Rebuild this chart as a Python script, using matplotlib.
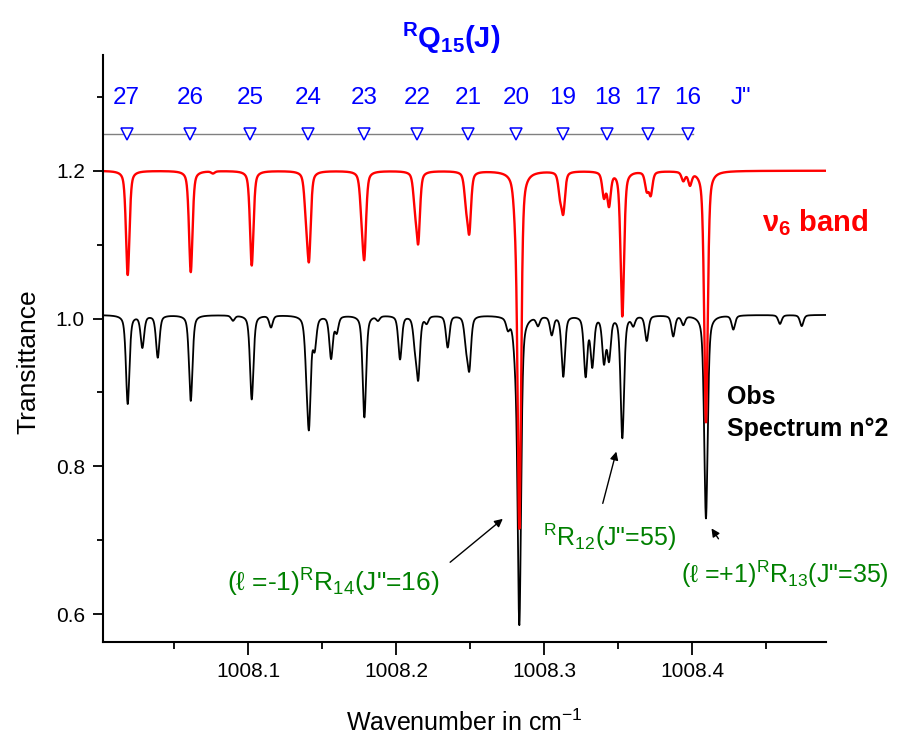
import matplotlib.pyplot as plt
import numpy as np

plt.rcParams['font.family'] = ['Liberation Sans', 'DejaVu Sans']
plt.rcParams['mathtext.fontset'] = 'custom'
plt.rcParams['mathtext.rm'] = 'Liberation Sans'
plt.rcParams['mathtext.it'] = 'Liberation Sans:italic'
plt.rcParams['mathtext.bf'] = 'Liberation Sans:bold'

# axis range (cm-1, transmittance)
x_min, x_max = 1008.002, 1008.4905
y_min, y_max = 0.563, 1.3565

# RQ15(J) assignments: J'' and line position
q_j = [27, 26, 25, 24, 23, 22, 21, 20, 19, 18, 17, 16]
q_pos = [1008.0180, 1008.0608, 1008.1013, 1008.1405, 1008.1784, 1008.2142,
         1008.2486, 1008.2811, 1008.3128, 1008.3426, 1008.3703, 1008.3973]

# calculated nu6 band: line centres and depths below the 1.2 offset
calc_base = 1.2
calc_pos = [1008.0187, 1008.0613, 1008.0763, 1008.1025, 1008.1392, 1008.1412,
            1008.1768, 1008.1786, 1008.2128, 1008.2150, 1008.2473, 1008.2495,
            1008.2805, 1008.2833, 1008.3108, 1008.3130, 1008.3405, 1008.3439,
            1008.3529, 1008.3694, 1008.3721, 1008.3941, 1008.3986, 1008.4094]
calc_depth = [0.141, 0.137, 0.003, 0.128, 0.045, 0.110,
              0.042, 0.105, 0.038, 0.090, 0.036, 0.077,
              0.030, 0.480, 0.028, 0.052, 0.033, 0.044,
              0.196, 0.024, 0.030, 0.012, 0.017, 0.340]

# observed spectrum n°2
obs_base = 1.005
obs_pos = [1008.0187, 1008.0286, 1008.0390, 1008.0613, 1008.0898, 1008.1025,
           1008.1155, 1008.1395, 1008.1412, 1008.1450, 1008.1561, 1008.1599,
           1008.1786, 1008.1878, 1008.2027, 1008.2128, 1008.2150, 1008.2207,
           1008.2349, 1008.2473, 1008.2495, 1008.2756, 1008.2805, 1008.2833,
           1008.2959, 1008.3052, 1008.3130, 1008.3281, 1008.3326, 1008.3405,
           1008.3439, 1008.3529, 1008.3603, 1008.3694, 1008.3873, 1008.3941,
           1008.4094, 1008.4279, 1008.4594, 1008.4741]
obs_depth = [0.120, 0.043, 0.057, 0.116, 0.007, 0.114,
             0.016, 0.045, 0.135, 0.040, 0.057, 0.021,
             0.138, 0.006, 0.059, 0.033, 0.080, 0.009,
             0.043, 0.033, 0.068, 0.014, 0.030, 0.415,
             0.012, 0.025, 0.082, 0.080, 0.066, 0.060,
             0.056, 0.165, 0.012, 0.034, 0.028, 0.012,
             0.275, 0.019, 0.012, 0.015]

hw = 0.0014  # half width of each line (cm-1)


def spectrum(x, base, pos, depth):
    y = np.full_like(x, base)
    for c, d in zip(pos, depth):
        u = ((x - c) / hw) ** 2
        y -= d * (0.5 / (1 + u) + 0.5 * np.exp(-np.log(2) * u))
    return y


x = np.linspace(x_min, x_max, 8000)
y_calc = spectrum(x, calc_base, calc_pos, calc_depth)
y_obs = spectrum(x, obs_base, obs_pos, obs_depth)

fig = plt.figure(figsize=(8.98, 7.40), dpi=100)
ax = fig.add_axes([0.1147, 0.1329, 0.8051, 0.7928])

ax.plot(x, y_obs, color='black', lw=1.3)
ax.plot(x, y_calc, color='red', lw=1.7)

# J'' markers
ax.plot([x_min, 1008.4006], [1.25, 1.25], color='gray', lw=1)
ax.plot(q_pos, [1.25] * len(q_pos), 'v', ms=9, mfc='white', mec='blue', mew=1.1)
for j, p in zip(q_j, q_pos):
    ax.text(p, 1.298, str(j), color='blue', fontsize=17.5, ha='center', va='center')
ax.text(1008.433, 1.298, 'J"', color='blue', fontsize=17.5, ha='center', va='center')

ax.set_xlim(x_min, x_max)
ax.set_ylim(y_min, y_max)
ax.set_xticks([1008.1, 1008.2, 1008.3, 1008.4])
ax.set_xticks([1008.05, 1008.15, 1008.25, 1008.35, 1008.45], minor=True)
ax.set_yticks([0.6, 0.8, 1.0, 1.2])
ax.set_yticks([0.7, 0.9, 1.1, 1.3], minor=True)
ax.set_xticklabels(['1008.1', '1008.2', '1008.3', '1008.4'])
ax.set_yticklabels(['0.6', '0.8', '1.0', '1.2'])
for s in ['top', 'right']:
    ax.spines[s].set_visible(False)
for s in ['left', 'bottom']:
    ax.spines[s].set_linewidth(1.5)
ax.tick_params(axis='x', which='major', length=9.5, width=1.3, labelsize=15, pad=5)
ax.tick_params(axis='x', which='minor', length=5, width=1.3)
ax.tick_params(axis='y', which='major', length=7, width=1.3, labelsize=15, pad=6)
ax.tick_params(axis='y', which='minor', length=4.5, width=1.3)

# labels and assignments
fig.text(28 / 898, 1 - 362 / 740, 'Transittance', rotation=90, fontsize=19,
         ha='center', va='center')
fig.text(464 / 898, 1 - 731 / 740, r'Wavenumber in cm$^{\mathrm{-1}}$', fontsize=18,
         ha='center', va='baseline')
fig.text(451 / 898, 1 - 38 / 740, r'$\mathbf{{}^{R}Q_{15}(J)}$', color='blue',
         fontsize=21, ha='center', va='center')

ax.text(1008.4473, 1.1186, r'$\mathbf{\nu_{6}}$ band', color='red', fontsize=21,
        fontweight='bold', ha='left', va='baseline')
ax.text(1008.4236, 0.885, 'Obs', fontsize=18, fontweight='bold', va='baseline')
ax.text(1008.4236, 0.841, 'Spectrum n°2', fontsize=18, fontweight='bold', va='baseline')

green = '#008000'
ax.text(1008.0858, 0.631, r'(ℓ =-1)${}^{\mathrm{R}}$R${}_{14}$(J"=16)', color=green,
        fontsize=19, va='baseline')
ax.text(1008.2993, 0.692, r'${}^{\mathrm{R}}$R${}_{12}$(J"=55)', color=green, fontsize=18,
        va='baseline')
ax.text(1008.3925, 0.643, r'(ℓ =+1)${}^{\mathrm{R}}$R${}_{13}$(J"=35)', color=green,
        fontsize=18, va='baseline')

arrow = dict(arrowstyle='-|>', color='black', lw=1, mutation_scale=12)
ax.annotate('', xy=(1008.2736, 0.7315), xytext=(1008.2351, 0.668), arrowprops=arrow)
ax.annotate('', xy=(1008.3493, 0.8237), xytext=(1008.3392, 0.7464), arrowprops=arrow)
ax.annotate('', xy=(1008.4121, 0.7193), xytext=(1008.4189, 0.699), arrowprops=arrow)

fig.savefig('out.png', dpi=100)
